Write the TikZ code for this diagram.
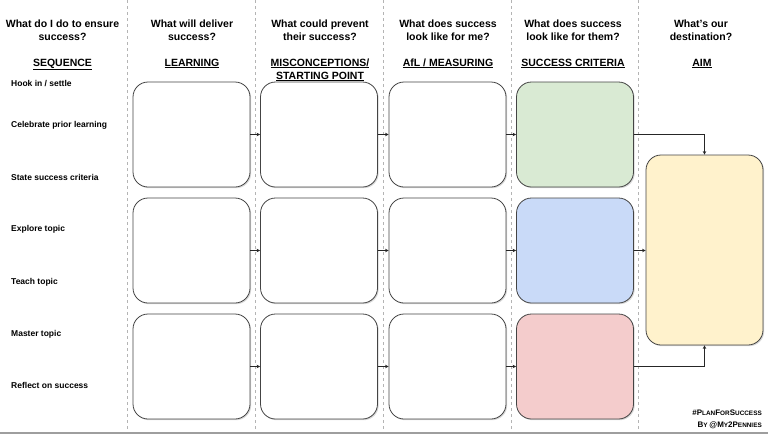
\documentclass[tikz,border=0pt]{standalone}
\usepackage{fontspec}
\setmainfont{Liberation Sans}
\usetikzlibrary{arrows.meta,shadows}
\definecolor{boxline}{HTML}{444444}
\definecolor{dashc}{HTML}{B4B4B4}
\definecolor{greenf}{HTML}{D9EAD3}
\definecolor{bluef}{HTML}{C9DAF8}
\definecolor{pinkf}{HTML}{F4CCCC}
\definecolor{yellowf}{HTML}{FFF2CC}
\newcommand{\bigc}[1]{{\fontsize{8}{9}\selectfont #1}}
\tikzset{
  card/.style={draw=boxline, line width=0.8pt, rounded corners=15pt, minimum width=117pt, minimum height=105pt, inner sep=0pt, fill=white,
    drop shadow={shadow xshift=1.2pt, shadow yshift=-1.2pt, opacity=0.25, fill=black!60}},
  aimcard/.style={card, minimum height=190pt, fill=yellowf},
  sep/.style={draw=dashc, line width=0.7pt, dash pattern=on 3pt off 3pt},
  head/.style={anchor=base, align=center, font=\fontsize{10.5}{13}\selectfont\bfseries, inner sep=0pt},
  rowlab/.style={anchor=base west, font=\fontsize{8.5}{10}\selectfont\bfseries, inner sep=0pt},
  link/.style={draw=black!85, line width=0.6pt, -{Stealth[length=3.5pt,width=3.5pt]}},
  foot/.style={anchor=base east, font=\fontsize{6.4}{8}\selectfont\bfseries, inner sep=0pt}
}
\begin{document}
\begin{tikzpicture}[x=1pt,y=-1pt]
\useasboundingbox (0,0) rectangle (768,434);
\fill[white] (0,0) rectangle (768,434);
% separators
\foreach \xx/\nm in {127.5/s1,255/s2,383/s3,511/s4,638.5/s5}{
  \coordinate (\nm t) at (\xx,0);
  \coordinate (\nm b) at (\xx,431);
  \draw[sep] (\nm t) -- (\nm b);
}
\coordinate (bl) at (0,432.5);
\coordinate (br) at (768,432.5);
\draw[draw=black!38, line width=2pt] (bl) -- (br);
% headers (anchor = baseline of last line)
\node[head] (h1) at (62.5,40) {What do I do to ensure\\success?};
\node[head] (h2) at (192,40) {What will deliver\\success?};
\node[head] (h3) at (320,40) {What could prevent\\their success?};
\node[head] (h4) at (448,40) {What does success\\look like for me?};
\node[head] (h5) at (573,40) {What does success\\look like for them?};
\node[head] (h6) at (701,40) {What's our\\destination?};
\node[head] (u1) at (62.5,66) {\underline{SEQUENCE}};
\node[head] (u2) at (192,66) {\underline{LEARNING}};
\node[head] (u3) at (320,79) {\underline{MISCONCEPTIONS/}\\\underline{STARTING POINT}};
\node[head] (u4) at (448,66) {\underline{AfL / MEASURING}};
\node[head] (u5) at (573,66) {\underline{SUCCESS CRITERIA}};
\node[head] (u6) at (702,66) {\underline{AIM}};
% row labels
\node[rowlab] (r1) at (11,86) {Hook in / settle};
\node[rowlab] (r2) at (11,127.5) {Celebrate prior learning};
\node[rowlab] (r3) at (11,180) {State success criteria};
\node[rowlab] (r4) at (11,231.5) {Explore topic};
\node[rowlab] (r5) at (11,284) {Teach topic};
\node[rowlab] (r6) at (11,336) {Master topic};
\node[rowlab] (r7) at (11,388) {Reflect on success};
% boxes
\foreach \r/\yy in {a/134.5,b/250.5,c/366.5}{
  \node[card] (L\r) at (191.5,\yy) {};
  \node[card] (M\r) at (319,\yy) {};
  \node[card] (F\r) at (447.5,\yy) {};
}
\node[card, fill=greenf] (Sa) at (575,134.5) {};
\node[card, fill=bluef] (Sb) at (575,250.5) {};
\node[card, fill=pinkf] (Sc) at (575,366.5) {};
\node[aimcard] (aim) at (704.5,250) {};
% connectors
\foreach \r in {a,b,c}{
  \draw[link] (L\r.east) -- (M\r.west);
  \draw[link] (M\r.east) -- (F\r.west);
  \draw[link] (F\r.east) -- (S\r.west);
}
\draw[link] (Sa.east) -| (aim.north);
\draw[link] (Sb.east) -- (Sb.east -| aim.west);
\draw[link] (Sc.east) -| (aim.south);
% footer
\node[foot] (f1) at (762,415) {\bigc{\#P}LAN\bigc{F}OR\bigc{S}UCCESS};
\node[foot] (f2) at (762,427.5) {\bigc{B}Y \bigc{@M}Y\bigc{2P}ENNIES};
\end{tikzpicture}
\end{document}
